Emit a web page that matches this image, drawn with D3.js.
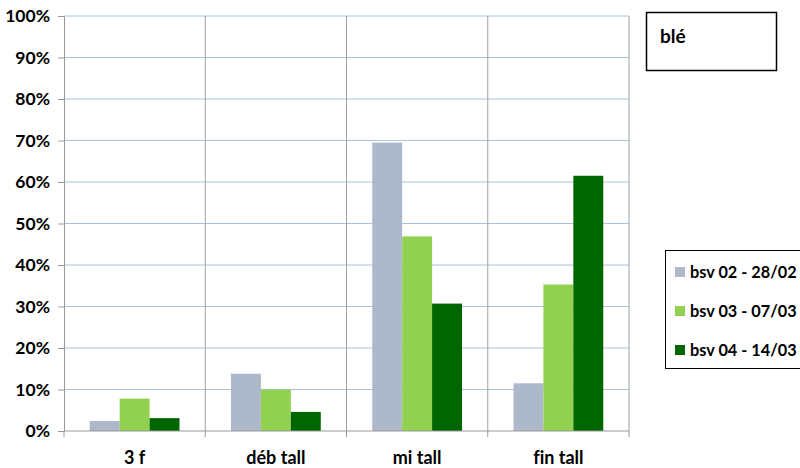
<!DOCTYPE html>
<html>
<head>
<meta charset="utf-8">
<script src="https://cdn.jsdelivr.net/npm/d3@7"></script>
<style>
  body { margin: 0; background: #fff; }
  svg text { font-family: Lato, "Open Sans", sans-serif; font-weight: bold; fill: #000; font-variant-ligatures: none; }
</style>
</head>
<body>
<svg class="target" width="800" height="468"></svg>
<script>
const categories = ["3 f", "déb tall", "mi tall", "fin tall"];
const seriesNames = ["bsv 02 - 28/02", "bsv 03 - 07/03", "bsv 04 - 14/03"];
const bsv02 = [0.024, 0.138, 0.695, 0.115];
const bsv03 = [0.078, 0.100, 0.469, 0.353];
const bsv04 = [0.031, 0.046, 0.307, 0.615];
const yTicks = [0, 0.1, 0.2, 0.3, 0.4, 0.5, 0.6, 0.7, 0.8, 0.9, 1];
const colors = ["#adb9ca", "#92d050", "#006600"];

const series = [bsv02, bsv03, bsv04];
const svg = d3.select(".target");

const plotLeft = 64, plotRight = 629, plotTop = 16, plotBottom = 431;

const x = d3.scaleBand().domain(categories).range([plotLeft, plotRight]);
const xInner = d3.scaleBand().domain(d3.range(series.length))
  .range([0, x.bandwidth()]).paddingOuter(0.86).paddingInner(0);
const y = d3.scaleLinear().domain([0, 1]).range([plotBottom, plotTop]);

// horizontal grid
svg.append("g").selectAll("line").data(yTicks.slice(1)).enter().append("line")
  .attr("x1", plotLeft).attr("x2", plotRight)
  .attr("y1", d => y(d)).attr("y2", d => y(d))
  .attr("stroke", "#a8c2e2").attr("stroke-width", 1);

// vertical grid at category boundaries
svg.append("g").selectAll("line").data(d3.range(1, categories.length + 1)).enter().append("line")
  .attr("x1", i => plotLeft + x.step() * i).attr("x2", i => plotLeft + x.step() * i)
  .attr("y1", plotTop).attr("y2", plotBottom)
  .attr("stroke", "#a0a0a0").attr("stroke-width", 1);

// bars
const groups = svg.append("g").selectAll("g").data(categories).enter().append("g")
  .attr("transform", d => `translate(${x(d)},0)`);
groups.selectAll("rect")
  .data((d, ci) => series.map((s, si) => ({ si, v: s[ci] })))
  .enter().append("rect")
  .attr("x", d => xInner(d.si))
  .attr("width", xInner.bandwidth())
  .attr("y", d => y(d.v))
  .attr("height", d => plotBottom - y(d.v))
  .attr("fill", d => colors[d.si]);

// y axis
const yAxis = svg.append("g").attr("transform", `translate(${plotLeft},0)`)
  .call(d3.axisLeft(y).tickValues(yTicks).tickFormat(d3.format(".0%")).tickSize(6).tickPadding(8));
yAxis.select(".domain").attr("stroke", "#999");
yAxis.selectAll(".tick line").attr("stroke", "#999");
yAxis.selectAll("text").style("font-size", "17.5px").style("font-family", "Lato, sans-serif");

// x axis
const xAxis = svg.append("g").attr("transform", `translate(0,${plotBottom})`);
xAxis.append("line").attr("x1", plotLeft).attr("x2", plotRight).attr("y1", 0).attr("y2", 0).attr("stroke", "#999");
xAxis.selectAll(".tk").data(d3.range(categories.length + 1)).enter().append("line")
  .attr("x1", i => plotLeft + x.step() * i).attr("x2", i => plotLeft + x.step() * i)
  .attr("y1", 0).attr("y2", 6).attr("stroke", "#999");
xAxis.selectAll("text").data(categories).enter().append("text")
  .attr("x", d => x(d) + x.bandwidth() / 2)
  .attr("y", 33)
  .attr("text-anchor", "middle")
  .style("font-size", "18px")
  .text(d => d);

// "blé" box
svg.append("rect").attr("x", 646.5).attr("y", 12.5).attr("width", 130).attr("height", 58)
  .attr("fill", "#fff").attr("stroke", "#000").attr("stroke-width", 1.5);
svg.append("text").attr("x", 660).attr("y", 43).style("font-size", "19px").text("blé");

// legend
const legend = svg.append("g");
legend.append("rect").attr("x", 665.5).attr("y", 250.5).attr("width", 150).attr("height", 118)
  .attr("fill", "#fff").attr("stroke", "#000").attr("stroke-width", 1);
const items = legend.selectAll("g").data(seriesNames).enter().append("g")
  .attr("transform", (d, i) => `translate(675,${272 + i * 39})`);
items.append("rect").attr("x", 0).attr("y", -5).attr("width", 10).attr("height", 10)
  .attr("fill", (d, i) => colors[i]);
items.append("text").attr("x", 15).attr("y", 6).style("font-size", "16.3px").text(d => d);
</script>
</body>
</html>
